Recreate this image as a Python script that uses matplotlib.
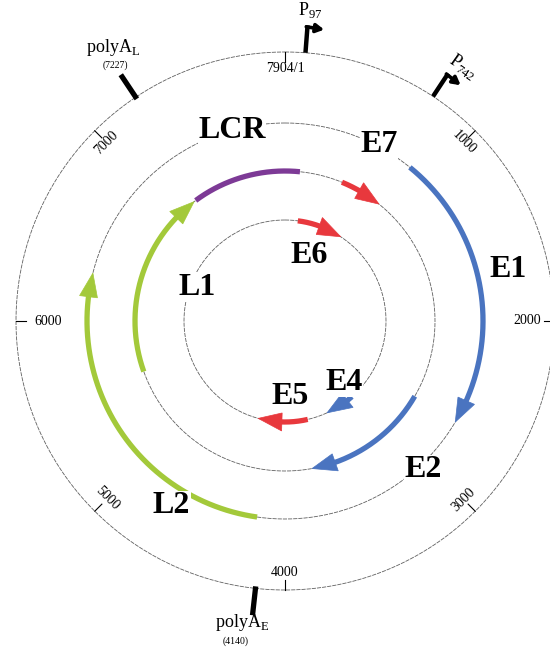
import numpy as np
import matplotlib
matplotlib.use("Agg")
import matplotlib.pyplot as plt
from matplotlib.patches import Polygon

plt.rcParams["font.family"] = ["Liberation Serif", "DejaVu Serif"]
plt.rcParams["mathtext.fontset"] = "custom"
plt.rcParams["mathtext.rm"] = "Liberation Serif"

# ---- genome coordinates (bp) ----
GENOME_LEN = 7904
tick_pos = [0, 1000, 2000, 3000, 4000, 5000, 6000, 7000]
tick_labels = ["7904/1", "1000", "2000", "3000", "4000", "5000", "6000", "7000"]

gene_names = ["E6", "E7", "E1", "E2", "E4", "E5", "L2", "L1"]
gene_start = [162, 496, 869, 2669, 3078, 3711, 4180, 5562]
gene_end = [744, 862, 2682, 3769, 3453, 4342, 6311, 7155]
gene_track = [3, 2, 1, 2, 3, 3, 1, 2]
gene_colors = ["#E8383D", "#E8383D", "#4A74C0", "#4A74C0",
               "#4A74C0", "#E8383D", "#A3C93A", "#A3C93A"]

lcr_start, lcr_end = 7170, 127
lcr_color = "#7D3A96"

promoter_names = ["97", "742"]
promoter_pos = [97, 742]

polya_names = ["L", "E"]
polya_pos = [7227, 4140]

# ---- layout ----
R_OUT = 269
track_r = [R_OUT, 198, 150, 101]
W, H = 550, 647
CX, CY = 285, 321

def theta(bp):
    knots = tick_pos + [GENOME_LEN]
    angles = np.arange(len(knots)) * 45.0
    return np.deg2rad(np.interp(bp, knots, angles))

fig = plt.figure(figsize=(W / 100, H / 100), dpi=100)
ax = fig.add_axes([(CX - R_OUT) / W, (H - CY - R_OUT) / H,
                   2 * R_OUT / W, 2 * R_OUT / H], projection="polar")
ax.set_theta_zero_location("N")
ax.set_theta_direction(-1)
ax.set_ylim(0, R_OUT)
ax.axis("off")

# concentric guide circles
full = np.linspace(0, 2 * np.pi, 720)
for r in track_r:
    ax.plot(full, np.full_like(full, r), color="#606060", lw=0.6,
            ls=(0, (5, 1.2)), clip_on=False, zorder=1)

# scale ticks and labels
tick_label_r = [252, 253, 256, 253, 251, 251, 251, 252]
tick_rot = [0, -45, 0, 45, 0, -45, 0, 45]
tick_ha = ["center", "center", "right", "center", "center", "center", "left", "center"]
for p, lab, lr, rot, ha in zip(tick_pos, tick_labels, tick_label_r, tick_rot, tick_ha):
    t = theta(p)
    ax.plot([t, t], [R_OUT - 10, R_OUT], color="black", lw=0.8, clip_on=False)
    ax.text(t, lr, lab, fontsize=10, rotation=rot, ha=ha, va="center",
            rotation_mode="anchor")

# gene arcs with arrow heads
HEAD_LEN, HEAD_HW, LW = 24, 9, 3.8
for name, s, e, tr, c in zip(gene_names, gene_start, gene_end, gene_track, gene_colors):
    r = track_r[tr]
    t0, t1 = theta(s), theta(e)
    dt = HEAD_LEN / r
    arc = np.linspace(t0, t1 - dt * 0.9, 200)
    ax.plot(arc, np.full_like(arc, r), color=c, lw=LW, solid_capstyle="butt", zorder=3)
    head = Polygon([(t1 - dt, r - HEAD_HW), (t1, r), (t1 - dt, r + HEAD_HW)],
                   closed=True, fc=c, ec=c, lw=0.5, zorder=3)
    ax.add_patch(head)

# LCR (non-coding) arc
t0 = theta(lcr_start)
t1 = theta(lcr_end) + 2 * np.pi
arc = np.linspace(t0, t1, 200)
ax.plot(arc, np.full_like(arc, track_r[2]), color=lcr_color, lw=LW,
        solid_capstyle="butt", zorder=3)

# gene labels (angle in degrees, radius)
label_pos = {"LCR": (344.5, 198), "E7": (28.0, 200), "E6": (20.0, 70),
             "L1": (291.1, 94), "E4": (136.0, 85), "E5": (176.2, 76),
             "E2": (137.2, 203), "L2": (211.6, 217), "E1": (77.0, 229)}
for lab, (a, r) in label_pos.items():
    ax.text(np.deg2rad(a), r, lab, fontsize=23, fontweight="bold", ha="center",
            va="center", zorder=4,
            bbox=dict(fc="white", ec="none", pad=0.5))

# promoters
STEM_TOP = 295
prom_label = [(4.6, 312, 0), (35.0, 311, -35)]
for name, p, (la, lr, rot) in zip(promoter_names, promoter_pos, prom_label):
    t = theta(p)
    ax.plot([t, t], [R_OUT, STEM_TOP + 1.5], color="black", lw=3.2,
            solid_capstyle="butt", clip_on=False, zorder=5)
    ax.annotate("", xy=(t + 17 / STEM_TOP, STEM_TOP - 1), xytext=(t - 0.004, STEM_TOP),
                arrowprops=dict(arrowstyle="-|>,head_length=0.45,head_width=0.25",
                                lw=2.6, color="black", shrinkA=0, shrinkB=0),
                annotation_clip=False, zorder=5)
    ax.text(np.deg2rad(la), lr, "P$_{\\mathregular{" + name + "}}$", fontsize=13,
            rotation=rot, ha="center", va="center", rotation_mode="anchor")

# polyadenylation sites
polya_label = [((327.9, 323), (326.4, 307)), ((188.1, 305), (188.7, 324))]
for name, p, (lab1, lab2) in zip(polya_names, polya_pos, polya_label):
    t = theta(p)
    ax.plot([t, t], [R_OUT - 2, R_OUT + 27], color="black", lw=3.8,
            solid_capstyle="butt", clip_on=False, zorder=5)
    ax.text(np.deg2rad(lab1[0]), lab1[1], "polyA$_{\\mathregular{" + name + "}}$",
            fontsize=13, ha="center", va="center")
    ax.text(np.deg2rad(lab2[0]), lab2[1], "(" + str(p) + ")", fontsize=7,
            ha="center", va="center")

fig.savefig("out.png", dpi=100)
